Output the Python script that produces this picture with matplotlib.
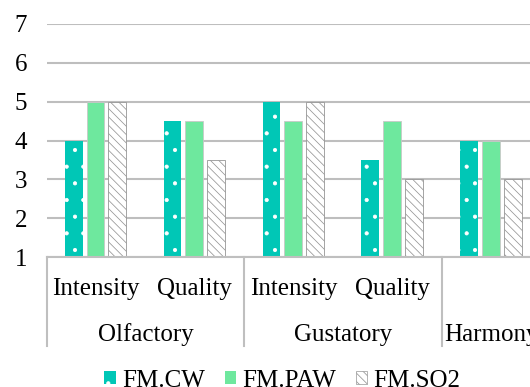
import matplotlib
matplotlib.use("Agg")
import matplotlib.pyplot as plt
import matplotlib.transforms as mtransforms
from matplotlib.patches import Patch
import numpy as np

plt.rcParams["font.family"] = ["Liberation Serif", "DejaVu Serif"]
plt.rcParams["hatch.linewidth"] = 0.55

# sensory scores per attribute
sub_labels = ["Intensity", "Quality", "Intensity", "Quality", ""]
groups     = ["Olfactory", "Gustatory", "Harmony"]
group_pos  = [0.5, 2.5, 4.0]
bounds     = [-0.5, 1.5, 3.5]
fm_cw      = [4.0, 4.5, 5.0, 3.5, 4.0]
fm_paw     = [5.0, 4.5, 4.5, 4.5, 4.0]
fm_so2     = [5.0, 3.5, 5.0, 3.0, 3.0]

c_cw, c_paw, c_grid = "#00C7B6", "#6EE89E", "#BEBEBE"
c_stripe = "#959595"
fs = 18

fig = plt.figure(figsize=(5.30, 3.87), dpi=100)
ax = fig.add_axes([46.5 / 530, 130 / 387, 494.5 / 530, 233 / 387])

x = np.arange(len(sub_labels))
w = 0.18
ax.bar(x - 0.225, fm_cw, w, color=c_cw, edgecolor="white",
       linewidth=0, hatch=".", zorder=3)
ax.bar(x - 0.005, fm_paw, w, color=c_paw, edgecolor="#C8C8C8",
       linewidth=0.6, zorder=3)
ax.bar(x + 0.215, fm_so2, w, color="white", edgecolor=c_stripe,
       linewidth=0.6, hatch="\\\\\\\\", zorder=3)

ax.set_xlim(-0.5, 4.5)
ax.set_ylim(1, 7)
ax.set_yticks(range(1, 8))
ax.tick_params(axis="y", length=0, pad=14, labelsize=fs)
ax.set_xticks([])
ax.yaxis.grid(True, color=c_grid, linewidth=1.5, zorder=0)
for s in ax.spines.values():
    s.set_visible(False)
ax.axhline(1, color="#BFBFBF", linewidth=1.5, zorder=4, clip_on=False)

# two-level category axis
trans = mtransforms.blended_transform_factory(ax.transData, ax.transAxes)
for b in bounds:
    ax.plot([b, b], [0, -0.382], color="#BFBFBF", linewidth=1.5,
            transform=trans, clip_on=False)
for xi, lab in zip(x, sub_labels):
    ax.text(xi, -0.165, lab, transform=trans, ha="center", va="baseline",
            fontsize=fs)
for gx, g in zip(group_pos, groups):
    ax.text(gx, -0.360, g, transform=trans, ha="center", va="baseline",
            fontsize=fs)

handles = [
    Patch(facecolor=c_cw, edgecolor="white", linewidth=0, hatch="."),
    Patch(facecolor=c_paw, edgecolor=c_paw, linewidth=0),
    Patch(facecolor="white", edgecolor=c_stripe, linewidth=0.5,
          hatch="\\\\\\\\"),
]
fig.legend(handles, ["FM.CW", "FM.PAW", "FM.SO2"], loc="lower center",
           bbox_to_anchor=(0.533, -0.012), ncol=3, frameon=False,
           fontsize=fs, handlelength=0.45, handleheight=0.45,
           handletextpad=0.25, columnspacing=0.8, borderpad=0,
           borderaxespad=0)

fig.savefig("out.png", dpi=100)
